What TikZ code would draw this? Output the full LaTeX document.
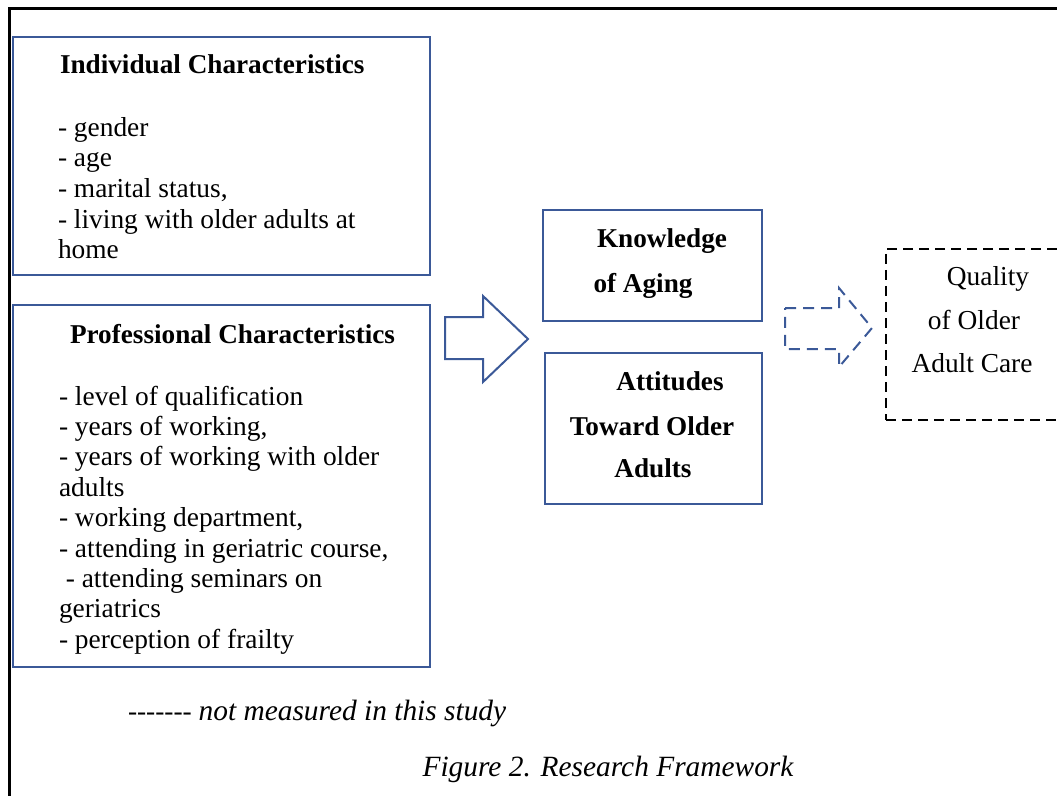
\documentclass[tikz,border=0pt]{standalone}
\usepackage{fontspec}
\setmainfont{Liberation Serif}
\definecolor{frameblue}{RGB}{59,89,152}
\begin{document}
\begin{tikzpicture}[x=1bp,y=-1bp,
  every node/.style={inner sep=0pt, outer sep=0pt},
  txt/.style={font=\fontsize{27.5}{30}\selectfont},
  bold/.style={font=\fontsize{27.3}{30}\selectfont\bfseries},
  itl/.style={font=\fontsize{29.5}{30}\selectfont\itshape},
  bluebox/.style={draw=frameblue, line width=2bp, rectangle},
  dashbox/.style={draw=black, line width=2.5bp, dash pattern=on 10bp off 6bp, rectangle},
  blockarrow/.style={draw=frameblue, line width=2bp, line join=miter},
  dasharrow/.style={draw=frameblue, line width=2bp, dash pattern=on 11bp off 7bp},
  frame/.style={draw=black, line width=3bp}
]
\useasboundingbox (0,0) rectangle (1057,796);
\clip (0,0) rectangle (1057,796);

% page frame (top and left rules)
\draw[frame] (9,796) -- (9,9) -- (1070,9);

% left column boxes
\node[bluebox, minimum width=417bp, minimum height=238bp] (indiv) at (221.5,156) {};
\node[bluebox, minimum width=417bp, minimum height=362bp] (prof) at (221.5,486) {};

\node[bold, anchor=base west] (indivT) at (60,74) {Individual Characteristics};
\foreach \t [count=\i] in {{- gender},{- age},{- marital status,},{- living with older adults at},{home}}{
  \pgfmathsetmacro\yy{136+30.7*(\i-1)}
  \node[txt, anchor=base west] (ind\i) at (58,\yy) {\t};
}

\node[bold, anchor=base west] (profT) at (70,343) {Professional Characteristics};
\foreach \t [count=\i] in {{- level of qualification},{- years of working,},{- years of working with older},{adults},{- working department,},{- attending in geriatric course,},{\ - attending seminars on},{geriatrics},{- perception of frailty}}{
  \pgfmathsetmacro\yy{405+30.4*(\i-1)}
  \node[txt, anchor=base west] (pro\i) at (59,\yy) {\t};
}

% block arrow into the middle column
\draw[blockarrow] (445,317) -- (483,317) -- (483,296) -- (528,339) -- (483,382) -- (483,359) -- (445,359) -- cycle;

% middle column
\node[bluebox, minimum width=219bp, minimum height=111bp] (know) at (652.5,265.5) {};
\node[bold, anchor=base] (know1) at (662,247) {Knowledge};
\node[bold, anchor=base] (know2) at (643,292) {of Aging};

\node[bluebox, minimum width=217bp, minimum height=151bp] (att) at (653.5,428.5) {};
\node[bold, anchor=base] (att1) at (670,390) {Attitudes};
\node[bold, anchor=base] (att2) at (652,435) {Toward Older};
\node[bold, anchor=base] (att3) at (653,477) {Adults};

% dashed block arrow towards the outcome
\draw[dasharrow] (785,308) -- (839,308) -- (839,288) -- (872,328) -- (839,367) -- (839,349) -- (785,349) -- cycle;

% outcome box
\node[dashbox, minimum width=200bp, minimum height=171bp] (qual) at (986,334.5) {};
\node[txt, anchor=base] (qual1) at (988,285) {Quality};
\node[txt, anchor=base] (qual2) at (974,329) {of Older};
\node[txt, anchor=base] (qual3) at (972,372) {Adult Care};

% legend and caption
\node[txt, anchor=base west] (legend) at (128,720) {-{}-{}-{}-{}-{}-{}- \fontsize{29.5}{30}\selectfont\itshape not measured in this study};
\node[itl, anchor=base] (caption) at (608,776) {Figure 2. Research Framework};
\end{tikzpicture}
\end{document}
